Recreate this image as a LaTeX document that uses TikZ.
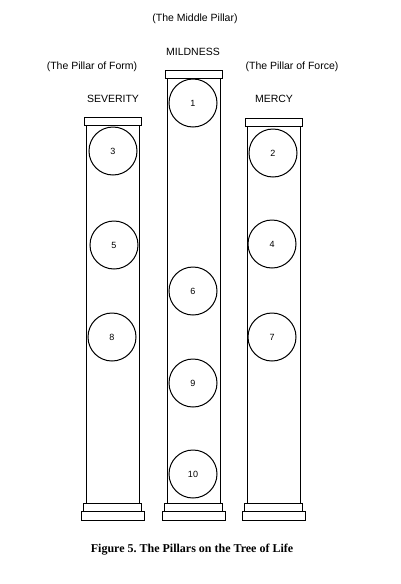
\documentclass[tikz,border=0pt]{standalone}
\usepackage{fontspec}
\setmainfont{Liberation Serif}
\setsansfont{Liberation Sans}
\usetikzlibrary{positioning}

\begin{document}
\begin{tikzpicture}[x=1pt, y=-1pt,
  part/.style={draw, line width=1pt},
  sph/.style={draw, circle, line width=1pt, minimum size=48pt, inner sep=0pt, font=\sffamily\fontsize{9}{10}\selectfont},
  lbl/.style={font=\sffamily\fontsize{10.5}{12}\selectfont, inner sep=0pt},
]
\useasboundingbox (0,0) rectangle (400,584);
% pillars: centre x / top of capital
\foreach \cx/\top in {112.5/117, 193.5/70, 273.5/118} {
  \draw[part] (\cx-28.5,\top) rectangle (\cx+28.5,\top+8); % capital
  \draw[part] (\cx-26.5,\top+8) rectangle (\cx+26.5,503); % shaft
  \draw[part] (\cx-29,503) rectangle (\cx+29,511);
  \draw[part] (\cx-31.5,511) rectangle (\cx+31.5,520); % plinth
}

% sephiroth
\node[sph] (s1) at (193,103) {1};
\node[sph] (s2) at (273,153) {2};
\node[sph] (s3) at (113,151) {3};
\node[sph] (s4) at (272,244) {4};
\node[sph] (s5) at (114,245) {5};
\node[sph] (s6) at (193,291) {6};
\node[sph] (s7) at (272,337) {7};
\node[sph] (s8) at (112,337) {8};
\node[sph] (s9) at (193,383) {9};
\node[sph] (s10) at (193,474) {10};

% titles
\node[lbl] (middle) at (195,19) {(The Middle Pillar)};
\node[lbl] (mild) at (193,52) {MILDNESS};
\node[lbl] (form) at (92,67) {(The Pillar of Form)};
\node[lbl] (force) at (292,67) {(The Pillar of Force)};
\node[lbl] (sev) at (113,99) {SEVERITY};
\node[lbl] (mercy) at (274,99) {MERCY};

\node[font=\bfseries\fontsize{12}{14}\selectfont] (caption) at (192,550) {Figure 5.\ The Pillars on the Tree of Life};
\end{tikzpicture}
\end{document}
